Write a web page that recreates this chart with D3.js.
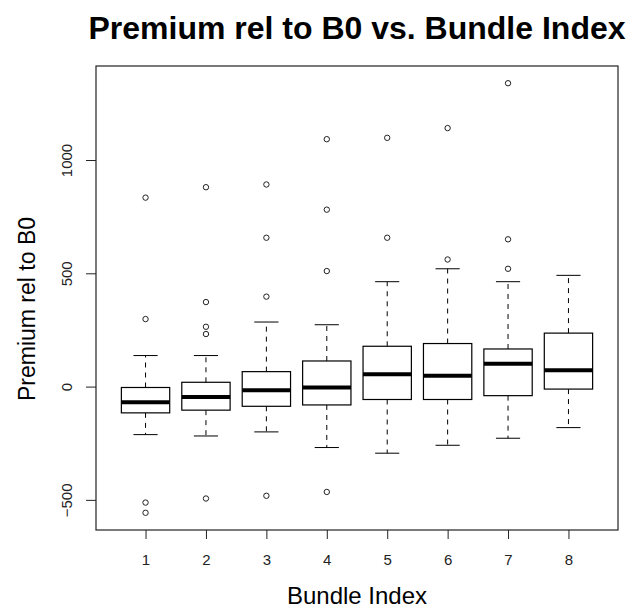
<!DOCTYPE html>
<html lang="en">
	<head>
		<meta charset="utf-8">
		<title>D3: boxplot</title>
		<script src="https://d3js.org/d3.v7.min.js"></script>
		<style type="text/css">
			body { margin: 0; background: #fff; }
			text { font-family: "Liberation Sans", Arial, sans-serif; }
		</style>
	</head>
	<body>
		<script type="text/javascript">
			// one entry per bundle
			var bundles = [1, 2, 3, 4, 5, 6, 7, 8];
			var lowerWhisker = [-212, -218, -200, -269, -294, -259, -228, -181];
			var q1 = [-116, -104, -87, -81, -57, -57, -40, -11];
			var median = [-69, -46, -16, -4, 54, 48, 101, 72];
			var q3 = [-4, 19, 66, 113, 178, 190, 166, 236];
			var upperWhisker = [137, 137, 285, 273, 463, 520, 463, 491];
			var outliers = [
				[834, 298, -512, -557],
				[880, 373, 264, 232, -494],
				[892, 657, 397, -482],
				[1092, 781, 510, -465],
				[1098, 657],
				[1141, 561],
				[1339, 650, 520],
				[]
			];
			var yTicks = [-500, 0, 500, 1000];

			var margin = {top: 66, right: 12, bottom: 83, left: 96},
				width = 630 - margin.left - margin.right,
				height = 613 - margin.top - margin.bottom;

			var data = bundles.map(function(b, i){
				return {
					bundle: b,
					lo: lowerWhisker[i], q1: q1[i], med: median[i],
					q3: q3[i], hi: upperWhisker[i], out: outliers[i]
				};
			});

			// R style limits: 0.5..n+0.5 and 4% padding
			var xscale = d3.scaleLinear()
				.domain([0.18, 8.82])
				.range([0, width]);

			var yscale = d3.scaleLinear()
				.domain([-633, 1415])
				.range([height, 0]);

			var svg = d3.select("body")
				.append("svg")
				.attr("width", 630)
				.attr("height", 613);

			var g = svg.append("g")
				.attr("transform", "translate(" + margin.left + "," + margin.top + ")");

			var boxW = xscale(0.4) - xscale(0);
			var capW = xscale(0.2) - xscale(0);

			var box = g.selectAll(".box")
				.data(data)
				.enter()
				.append("g")
				.attr("class", "box");

			// dashed whiskers
			box.append("line")
				.attr("x1", function(d){ return xscale(d.bundle); })
				.attr("x2", function(d){ return xscale(d.bundle); })
				.attr("y1", function(d){ return yscale(d.q3); })
				.attr("y2", function(d){ return yscale(d.hi); })
				.attr("stroke", "#000")
				.attr("stroke-dasharray", "5,5");
			box.append("line")
				.attr("x1", function(d){ return xscale(d.bundle); })
				.attr("x2", function(d){ return xscale(d.bundle); })
				.attr("y1", function(d){ return yscale(d.q1); })
				.attr("y2", function(d){ return yscale(d.lo); })
				.attr("stroke", "#000")
				.attr("stroke-dasharray", "5,5");

			// staples
			box.selectAll(".staple")
				.data(function(d){ return [{x: d.bundle, v: d.hi}, {x: d.bundle, v: d.lo}]; })
				.enter()
				.append("line")
				.attr("x1", function(d){ return xscale(d.x) - capW; })
				.attr("x2", function(d){ return xscale(d.x) + capW; })
				.attr("y1", function(d){ return yscale(d.v); })
				.attr("y2", function(d){ return yscale(d.v); })
				.attr("stroke", "#000");

			box.append("rect")
				.attr("x", function(d){ return xscale(d.bundle) - boxW; })
				.attr("y", function(d){ return yscale(d.q3); })
				.attr("width", boxW * 2)
				.attr("height", function(d){ return yscale(d.q1) - yscale(d.q3); })
				.attr("fill", "#fff")
				.attr("stroke", "#000")
				.attr("stroke-width", 1.2);

			box.append("line")
				.attr("x1", function(d){ return xscale(d.bundle) - boxW; })
				.attr("x2", function(d){ return xscale(d.bundle) + boxW; })
				.attr("y1", function(d){ return yscale(d.med); })
				.attr("y2", function(d){ return yscale(d.med); })
				.attr("stroke", "#000")
				.attr("stroke-width", 4);

			box.selectAll("circle")
				.data(function(d){ return d.out.map(function(v){ return {x: d.bundle, v: v}; }); })
				.enter()
				.append("circle")
				.attr("cx", function(d){ return xscale(d.x); })
				.attr("cy", function(d){ return yscale(d.v); })
				.attr("r", 2.7)
				.attr("fill", "none")
				.attr("stroke", "#222")
				.attr("stroke-width", 1);

			// frame
			g.append("rect")
				.attr("x", 0)
				.attr("y", 0)
				.attr("width", width)
				.attr("height", height)
				.attr("fill", "none")
				.attr("stroke", "#222")
				.attr("stroke-width", 1.2);

			// x axis
			var xAxis = g.append("g")
				.attr("transform", "translate(0," + height + ")")
				.call(d3.axisBottom(xscale).tickValues(bundles).tickSize(9).tickSizeOuter(0).tickFormat(d3.format("d")));
			xAxis.select(".domain").remove();
			xAxis.selectAll("line").attr("stroke", "#222");
			xAxis.selectAll("text")
				.attr("y", 35)
				.attr("dy", 0)
				.attr("fill", "#222")
				.style("font-size", "15px")
				.style("font-family", "'Liberation Sans', Arial, sans-serif");

			// y axis
			var yAxis = g.append("g")
				.call(d3.axisLeft(yscale).tickValues(yTicks).tickSize(10).tickSizeOuter(0).tickFormat(d3.format("d")));
			yAxis.select(".domain").remove();
			yAxis.selectAll("line").attr("stroke", "#222");
			yAxis.selectAll("text")
				.attr("x", 0)
				.attr("dy", 0)
				.attr("transform", "translate(-24,0) rotate(-90)")
				.style("text-anchor", "middle")
				.attr("fill", "#222")
				.style("font-size", "15px")
				.style("font-family", "'Liberation Sans', Arial, sans-serif");

			// title and labels
			svg.append("text")
				.attr("x", margin.left + width / 2)
				.attr("y", 39)
				.style("text-anchor", "middle")
				.style("font-size", "32px")
				.style("font-weight", "bold")
				.text("Premium rel to B0 vs. Bundle Index");

			svg.append("text")
				.attr("x", margin.left + width / 2)
				.attr("y", 604)
				.style("text-anchor", "middle")
				.style("font-size", "24px")
				.text("Bundle Index");

			svg.append("text")
				.attr("transform", "translate(35,309) rotate(-90)")
				.style("text-anchor", "middle")
				.style("font-size", "23px")
				.text("Premium rel to B0");
		</script>
	</body>
</html>
